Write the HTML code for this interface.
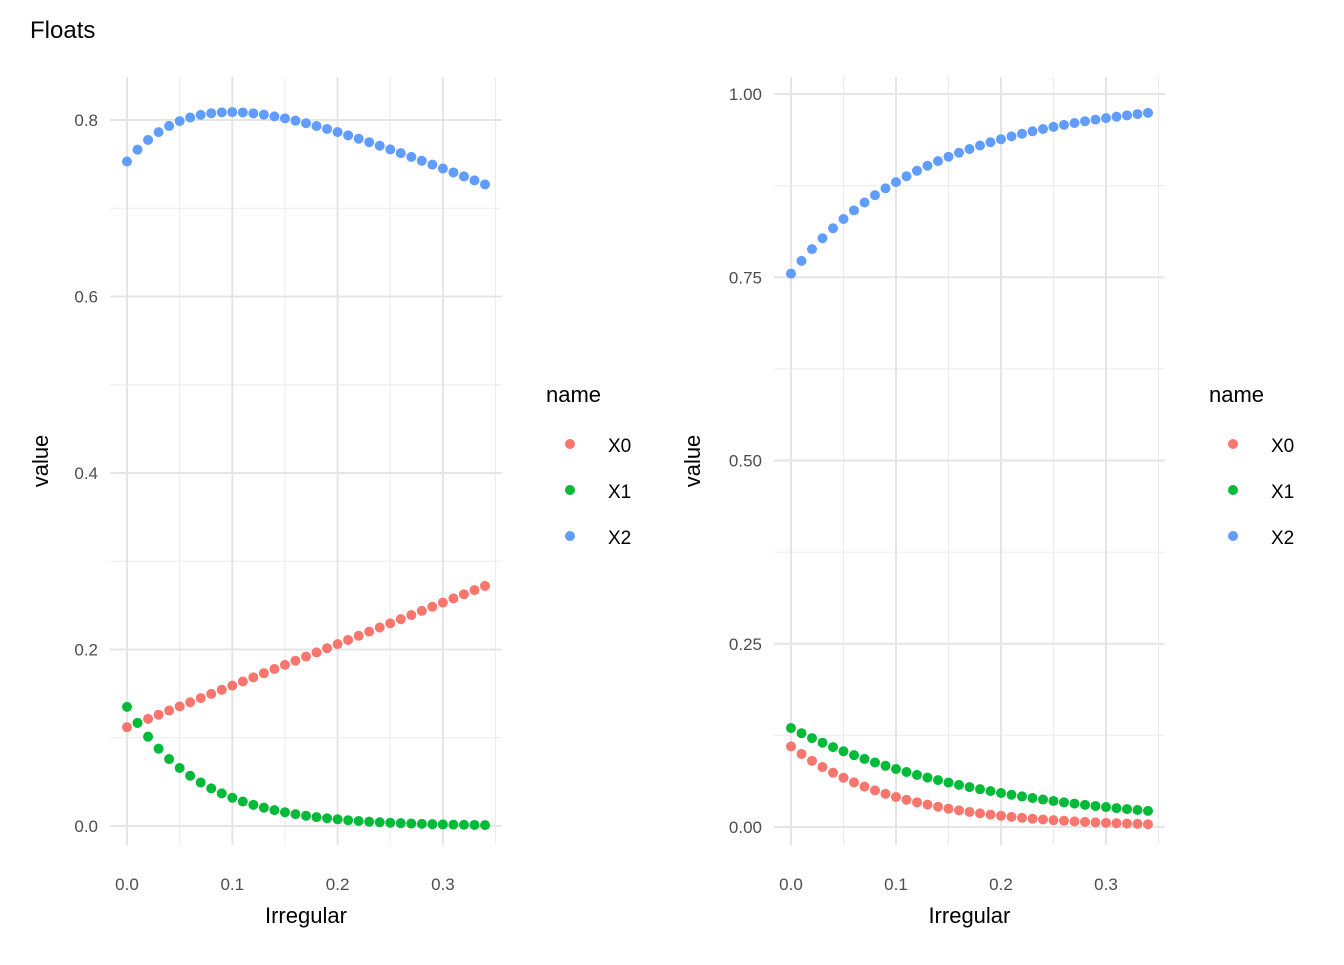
<!DOCTYPE html>
<html><head><meta charset="utf-8"><style>
body{margin:0;background:#fff;}
svg text{font-family:"Liberation Sans",Arial,sans-serif;}
</style></head><body>
<svg id="s" width="1344" height="960" xmlns="http://www.w3.org/2000/svg"></svg>
<script>
const s=document.getElementById('s');let h='';
h+='<rect width="1344" height="960" fill="#fff"/>';
h+='<text x="30" y="38" font-size="24" fill="#000">Floats</text>';
const C=['#F8766D','#00BA38','#619CFF'];
function panel(px0,pxs,py0,pys,yt,ylab,fns,legx,yoff){
  const L=px0-17,R=px0+pxs*0.356,T=77,B=845;
  for(let i=0;i<yt.length-1;i++){const y=py0-pys*(yt[i]+yt[i+1])/2;h+=`<line x1="${L}" x2="${R}" y1="${y}" y2="${y}" stroke="#ebebeb" stroke-width="1"/>`;}
  if(yt.length){const d=yt[1]-yt[0];const y=py0-pys*(yt[yt.length-1]+d/2);if(y>T)h+=`<line x1="${L}" x2="${R}" y1="${y}" y2="${y}" stroke="#ebebeb" stroke-width="1"/>`;}
  for(const v of [0.05,0.15,0.25]){const x=px0+pxs*v;h+=`<line x1="${x}" x2="${x}" y1="${T}" y2="${B}" stroke="#ebebeb" stroke-width="1"/>`;}
  const xm=px0+pxs*0.35;h+=`<line x1="${xm}" x2="${xm}" y1="${T}" y2="${B}" stroke="#ebebeb" stroke-width="1"/>`;
  yt.forEach(v=>{const y=py0-pys*v;h+=`<line x1="${L}" x2="${R}" y1="${y}" y2="${y}" stroke="#e5e5e5" stroke-width="2"/>`;
    h+=`<text x="${L-12}" y="${y+6}" font-size="17" fill="#4d4d4d" text-anchor="end">${ylab(v)}</text>`;});
  [0,0.1,0.2,0.3].forEach(v=>{const x=px0+pxs*v;h+=`<line x1="${x}" x2="${x}" y1="${T}" y2="${B}" stroke="#e5e5e5" stroke-width="2"/>`;
    h+=`<text x="${x}" y="${890}" font-size="17" fill="#4d4d4d" text-anchor="middle">${v.toFixed(1)}</text>`;});
  h+=`<text x="${(L+R)/2}" y="923" font-size="22" fill="#000" text-anchor="middle">Irregular</text>`;
  h+=`<text transform="translate(${L-yoff},${(T+B)/2}) rotate(-90)" font-size="22" fill="#000" text-anchor="middle">value</text>`;
  for(let k=0;k<3;k++)for(let i=0;i<=34;i++){const x=i/100;const v=fns[k](x);
    h+=`<circle cx="${px0+pxs*x}" cy="${py0-pys*v}" r="5" fill="${C[k]}"/>`;}
  h+=`<text x="${legx-24}" y="402" font-size="22" fill="#000">name</text>`;
  ['X0','X1','X2'].forEach((n,k)=>{const y=444+46*k;h+=`<circle cx="${legx}" cy="${y}" r="5" fill="${C[k]}"/>`;
    h+=`<text x="${legx+38}" y="${y+8}" font-size="19" fill="#000">${n}</text>`;});
}
const a0=x=>0.112+x*0.16/0.34, a1=x=>0.135*Math.exp(-14.4*x);
panel(127,1053,826,882.5,[0,0.2,0.4,0.6,0.8],v=>v.toFixed(1),[a0,a1,x=>1-a0(x)-a1(x)],570,62);
const b0=x=>0.11*Math.exp(-9.87*x), b1=x=>0.135*Math.exp(-5.34*x);
panel(791,1050,827,733,[0,0.25,0.5,0.75,1],v=>v.toFixed(2),[b0,b1,x=>1-b0(x)-b1(x)],1233,74);
s.innerHTML=h;
</script>
</body></html>
